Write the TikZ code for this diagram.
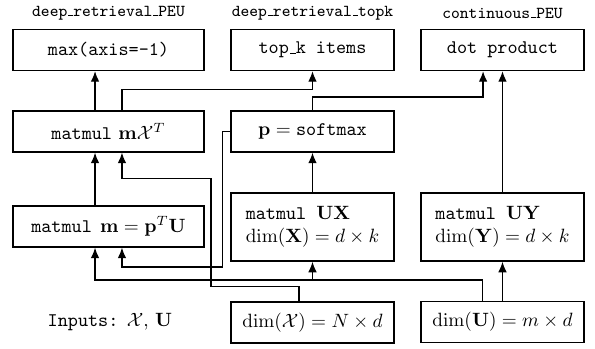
\documentclass[tikz,border=0pt]{standalone}
\usetikzlibrary{arrows.meta}
\newcommand{\lowbar}{\kern.06em\vbox{\hrule width.3em}}

\begin{document}
\begin{tikzpicture}[x=0.52pt, y=-0.52pt, line width=0.7pt, >={Latex[length=5.5pt,width=4.5pt]},
  opbox/.style={rectangle, draw, inner sep=0pt, minimum height=21.3pt, align=center},
  widebox/.style={opbox, minimum width=99.3pt},
  narrowbox/.style={opbox, minimum width=84.8pt},
  tallbox/.style={narrowbox, minimum height=35.4pt, align=left},
  title/.style={font=\fontsize{8.7}{10}\selectfont\ttfamily}]
\useasboundingbox (0,0) rectangle (595,348);

% Titles
\node[title] (titlepeu) at (108.5,13) {deep\lowbar retrieval\lowbar PEU};
\node[title] (titletopk) at (312.5,13) {deep\lowbar retrieval\lowbar topk};
\node[title] (titlecont) at (502.5,13) {continuous\lowbar PEU};

% Boxes
\node[widebox] (max) at (108.5,50) {\texttt{max(axis=-1)}};
\node[narrowbox] (topk) at (312.5,50) {\texttt{top\lowbar k items}};
\node[narrowbox] (dot) at (502.5,50) {\texttt{dot product}};

\node[widebox] (mx) at (108.5,131.5) {\texttt{matmul} $\mathbf{m}\mathcal{X}^T$};
\node[narrowbox] (soft) at (312.5,131.5) {$\mathbf{p} = \texttt{softmax}$};

\node[widebox] (mpu) at (108.5,226.5) {\texttt{matmul} \hspace{1pt}$\mathbf{m} = \mathbf{p}^T\mathbf{U}$};
\node[tallbox] (ux) at (312.5,227) {\texttt{matmul }$\mathbf{UX}$\\$\dim(\mathbf{X}) = d \times k$};
\node[tallbox] (uy) at (502.5,227) {\texttt{matmul }$\mathbf{UY}$\\$\dim(\mathbf{Y}) = d \times k$};

\node (inputs) at (110,322) {\texttt{Inputs:} $\mathcal{X}$, $\mathbf{U}$};
\node[narrowbox] (dimx) at (312.5,322.5) {$\dim(\mathcal{X}) = N \times d$};
\node[narrowbox] (dimu) at (502.5,322) {$\dim(\mathbf{U}) = m \times d$};

% Arrows
\draw[->] ([xshift=-7pt]mx.north) -- ([xshift=-7pt]max.south);
\draw[->] ([xshift=7pt]mx.north) -- ++(0,-21) -| (topk.south);
\draw[->] (soft.north) -- ++(0,-13.5) -| ([xshift=-10.1pt]dot.south);
\draw[->] (uy) -- (dot);
\draw[->] (ux) -- (soft);
\draw[->] ([xshift=-7pt]mpu.north) -- ([xshift=-7pt]mx.south);
\draw[->] ([xshift=-7pt]dimx.north) -- ++(0,-15) -- ++(-88,0) -- ++(0,-108) -| ([xshift=7pt]mx.south);
\draw[->] (soft.west) -- ++(-8,0) -- ++(0,135.5) -| ([xshift=7pt]mpu.south);
\draw[->] ([xshift=-10.4pt]dimu.north) -- ++(0,-21) -| (ux.south);
\draw[->] ([xshift=-10.4pt]dimu.north) -- ++(0,-21) -| ([xshift=-7pt]mpu.south);
\draw[->] (dimu) -- (uy);
\end{tikzpicture}
\end{document}
